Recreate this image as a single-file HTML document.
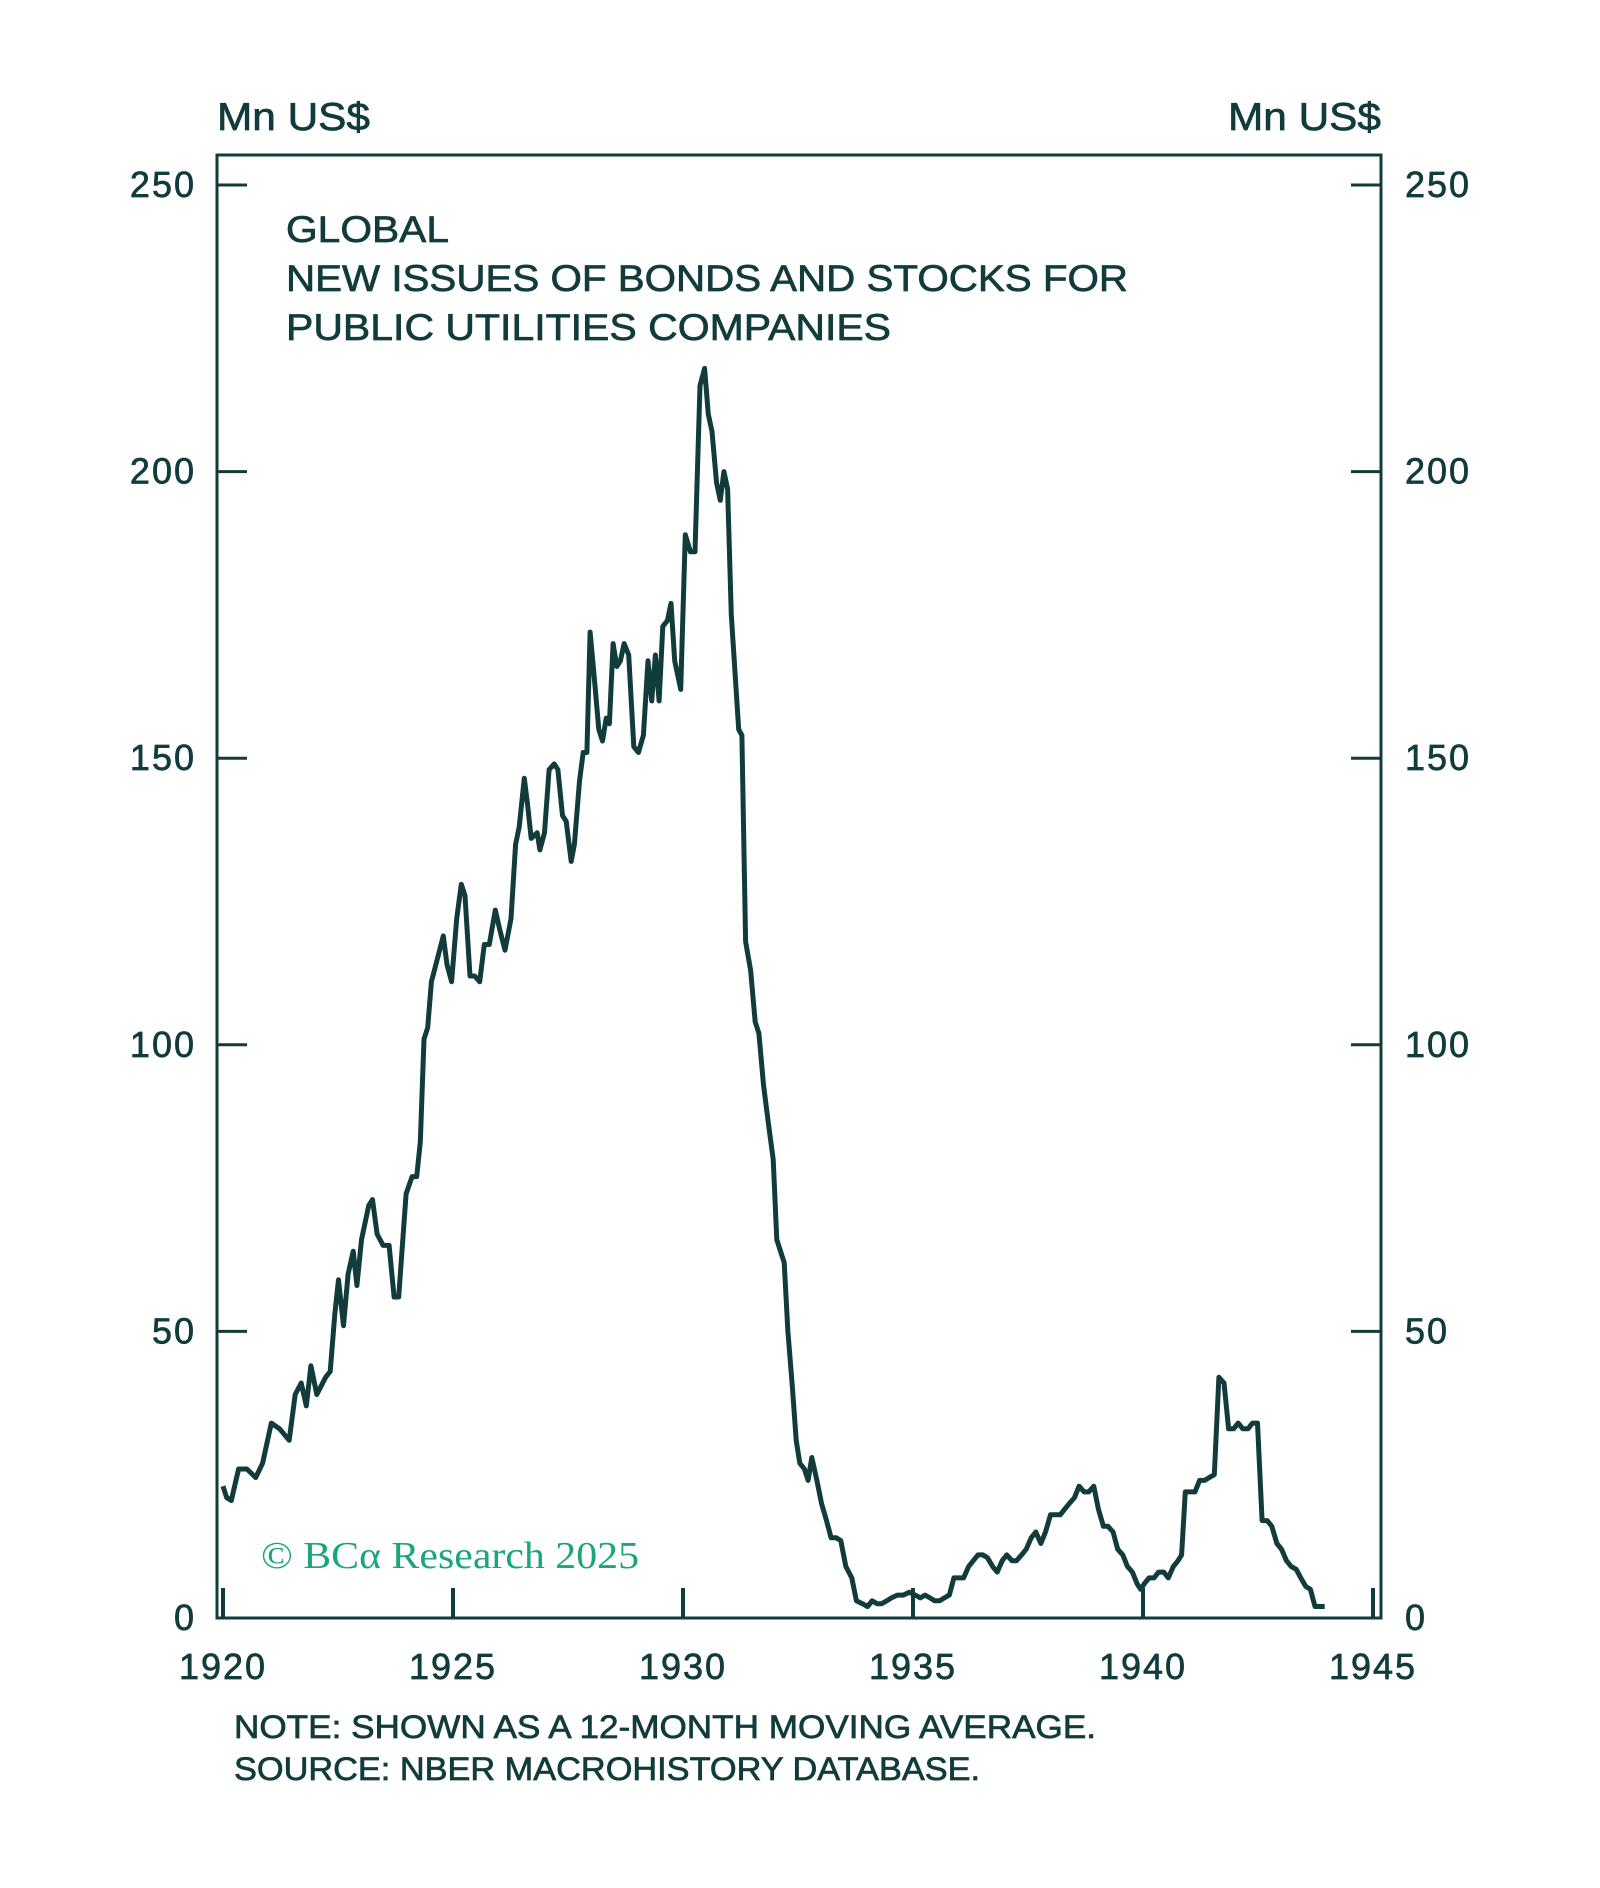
<!DOCTYPE html>
<html><head><meta charset="utf-8"><style>
html,body{margin:0;padding:0;background:#fff;}
svg{display:block;}
text{font-family:"Liberation Sans",sans-serif;fill:#123c3c;stroke:#123c3c;stroke-width:0.7px;}
</style></head><body>
<svg width="1600" height="1888" viewBox="0 0 1600 1888">
<g id="axes"></g>
<text x="217" y="130" font-size="39" textLength="153" lengthAdjust="spacingAndGlyphs">Mn US$</text>
<text x="1228" y="130" font-size="39" textLength="153" lengthAdjust="spacingAndGlyphs">Mn US$</text>
<g font-size="37">
<text x="286" y="242" textLength="163" lengthAdjust="spacingAndGlyphs">GLOBAL</text>
<text x="286" y="291" textLength="842" lengthAdjust="spacingAndGlyphs">NEW ISSUES OF BONDS AND STOCKS FOR</text>
<text x="286" y="340" textLength="605" lengthAdjust="spacingAndGlyphs">PUBLIC UTILITIES COMPANIES</text>
</g>
<text x="261" y="1568" font-size="38" textLength="378" lengthAdjust="spacingAndGlyphs" style="font-family:'Liberation Serif',serif;fill:#1aa57b;stroke:none">© BCα Research 2025</text>
<g font-size="32">
<text x="234" y="1738" textLength="862" lengthAdjust="spacingAndGlyphs">NOTE: SHOWN AS A 12-MONTH MOVING AVERAGE.</text>
<text x="234" y="1780" textLength="746" lengthAdjust="spacingAndGlyphs">SOURCE: NBER MACROHISTORY DATABASE.</text>
</g>
<path id="line" fill="none" stroke="#123c3c" stroke-width="5" stroke-linejoin="round"/>
</svg>
<script>
const years=[1920.00,1920.08,1920.18,1920.34,1920.52,1920.71,1920.86,1921.05,1921.23,1921.44,1921.57,1921.70,1921.81,1921.91,1922.04,1922.23,1922.33,1922.43,1922.51,1922.62,1922.72,1922.83,1922.91,1923.01,1923.17,1923.25,1923.35,1923.48,1923.61,1923.72,1923.82,1923.98,1924.11,1924.21,1924.29,1924.37,1924.45,1924.53,1924.66,1924.79,1924.87,1924.97,1925.08,1925.18,1925.26,1925.37,1925.47,1925.58,1925.68,1925.79,1925.92,1926.02,1926.13,1926.26,1926.36,1926.44,1926.55,1926.62,1926.70,1926.83,1926.89,1926.99,1927.09,1927.20,1927.28,1927.38,1927.46,1927.57,1927.64,1927.75,1927.83,1927.91,1927.98,1928.06,1928.17,1928.25,1928.33,1928.40,1928.48,1928.56,1928.64,1928.72,1928.82,1928.93,1929.03,1929.14,1929.24,1929.32,1929.40,1929.48,1929.56,1929.66,1929.74,1929.82,1929.95,1930.05,1930.16,1930.26,1930.37,1930.47,1930.55,1930.63,1930.73,1930.81,1930.89,1930.97,1931.05,1931.13,1931.21,1931.28,1931.36,1931.47,1931.57,1931.65,1931.75,1931.86,1931.96,1932.04,1932.12,1932.20,1932.28,1932.38,1932.46,1932.54,1932.64,1932.72,1932.80,1932.91,1933.01,1933.12,1933.22,1933.33,1933.43,1933.54,1933.67,1933.77,1933.90,1934.01,1934.11,1934.22,1934.32,1934.43,1934.53,1934.66,1934.79,1934.92,1935.05,1935.16,1935.26,1935.37,1935.47,1935.58,1935.68,1935.79,1935.89,1935.99,1936.10,1936.21,1936.31,1936.41,1936.52,1936.62,1936.73,1936.83,1936.94,1937.04,1937.15,1937.25,1937.36,1937.46,1937.57,1937.67,1937.78,1937.88,1937.99,1938.09,1938.20,1938.30,1938.40,1938.51,1938.61,1938.72,1938.82,1938.93,1939.03,1939.14,1939.24,1939.35,1939.45,1939.56,1939.66,1939.77,1939.87,1939.95,1940.03,1940.13,1940.24,1940.34,1940.45,1940.55,1940.66,1940.76,1940.84,1940.92,1941.02,1941.13,1941.23,1941.34,1941.44,1941.55,1941.65,1941.76,1941.86,1941.97,1942.07,1942.17,1942.28,1942.38,1942.49,1942.59,1942.70,1942.80,1942.91,1943.01,1943.12,1943.22,1943.33,1943.43,1943.54,1943.64,1943.74,1943.85,1943.95];
const values=[23,21,20.5,26,26,24.5,27,34,33,31,39,41,37,44,39,42,43,53,59,51,60,64,58,66,72,73,67,65,65,56,56,74,77,77,83,101,103,111,115,119,114,111,122,128,126,112,112,111,117.5,117.5,123.5,120,116.5,122,135,138,146.5,142,136,137,134,137,148,149,148,140,139,132,135,146,151,151,172,165,155,153,157,156,170,166,167,170,168,152,151,154,167,160,168,160,173,174,177,167,162,189,186,186,215,218,210,207,198,195,200,197,175,165,155,154,118,113,104,102,93,86,80,66,64,62,50,40,31,27,26,24,28,24,20,17,14,14,13.5,9,7,3,2.5,2,3,2.5,2.5,3,3.5,4,4,4.5,4,3.5,4,3.5,3,3,3.5,4,7,7,7,9,10,11,11,10.5,9,8,10,11,10,10,11,12,14,15,13,15,18,18,18,19,20,21,23,22,22,23,19,16,16,15,12,11,9,8,6,5,6,7,7,8,8,7,9,10,11,22,22,22,24,24,24.5,25,42,41,33,33,34,33,33,34,34,17,17,16,13,12,10,9,8.5,7,5.5,5,2,2,2];
const yTicks=[0,50,100,150,200,250];
const xTicks=[1920,1925,1930,1935,1940,1945];
const X0=223,XS=46,Y0=1618,YS=5.732;
function xs(y){return X0+(y-1920)*XS;}
function ys(v){return Y0-v*YS;}
const NS='http://www.w3.org/2000/svg';
const ax=document.getElementById('axes');
function mk(tag,attrs){const e=document.createElementNS(NS,tag);for(const k in attrs)e.setAttribute(k,attrs[k]);ax.appendChild(e);return e;}
const fr=mk('rect',{x:217,y:155,width:1164,height:1463,fill:'none',stroke:'#123c3c','stroke-width':3});


yTicks.forEach(v=>{
  const y=ys(v);
  const t1=mk('line',{x1:217,x2:247,y1:y,y2:y,stroke:'#123c3c','stroke-width':3});
  
  
  const t2=mk('line',{x1:1351,x2:1381,y1:y,y2:y,stroke:'#123c3c','stroke-width':3});
  
  
  const l1=mk('text',{x:196,y:y+12,'font-size':36,'text-anchor':'end','letter-spacing':2});l1.textContent=v;
  
  
  const l2=mk('text',{x:1405,y:y+12,'font-size':36,'letter-spacing':2});l2.textContent=v;
  
  
});
xTicks.forEach(yr=>{
  const x=xs(yr);
  const t=mk('line',{x1:x,x2:x,y1:Y0,y2:Y0-30,stroke:'#123c3c','stroke-width':4});
  
  
  const l=mk('text',{x:x,y:1679,'font-size':36,'text-anchor':'middle','letter-spacing':2});l.textContent=yr;
  
  
});
document.getElementById('line').setAttribute('d',years.map((y,i)=>(i?'L':'M')+xs(y).toFixed(1)+','+ys(values[i]).toFixed(1)).join(' '));
</script>
</body></html>
